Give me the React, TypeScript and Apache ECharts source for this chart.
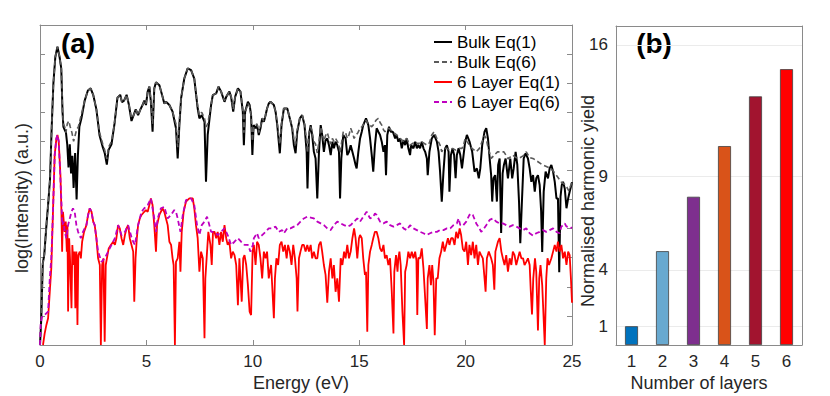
import React, { useEffect, useRef } from 'react';
import * as echarts from 'echarts';

// ---------- Panel (a): log(Intensity) vs Energy (eV) ----------
const energyTicks = [0, 5, 10, 15, 20, 25];

const bulkEq1: [number, number][] = [
  [0,0],[0.06,0.9],[0.13,2.8],[0.2,3.1],[0.31,4.2],[0.39,4.9],[0.47,5.7],[0.55,7.5],[0.63,9.0],[0.72,9.9],[0.82,10.25],[0.92,9.9],[1.0,9.5],[1.06,8.0],[1.1,7.5],[1.16,7.4],[1.22,7.3],[1.28,6.9],[1.34,6.1],[1.4,6.9],[1.46,5.9],[1.52,6.5],[1.58,5.4],[1.65,6.6],[1.72,5.0],[1.78,6.5],[1.85,7.5],[1.95,7.8],[2.1,8.4],[2.25,8.75],[2.38,8.82],[2.5,8.6],[2.65,8.1],[2.8,7.2],[2.95,6.8],[3.04,6.6],[3.14,6.2],[3.22,6.7],[3.36,6.9],[3.5,7.6],[3.64,8.5],[3.77,8.6],[3.85,8.35],[3.95,8.4],[4.07,8.6],[4.18,8.25],[4.3,7.7],[4.4,7.9],[4.5,8.1],[4.61,7.9],[4.72,8.1],[4.82,8.25],[4.9,8.4],[4.98,8.25],[5.06,8.71],[5.14,8.88],[5.21,8.36],[5.29,7.33],[5.37,8.82],[5.45,9.03],[5.61,8.93],[5.76,8.53],[5.84,8.3],[5.92,8.36],[6.08,8.25],[6.23,8.02],[6.39,7.45],[6.47,6.41],[6.55,7.56],[6.63,8.48],[6.78,9.16],[6.94,9.51],[7.1,9.45],[7.25,9.16],[7.41,8.13],[7.49,7.79],[7.6,7.9],[7.73,7.67],[7.8,5.61],[7.88,7.22],[8.04,8.25],[8.12,8.59],[8.28,8.65],[8.39,8.88],[8.51,8.71],[8.67,8.36],[8.75,8.53],[8.9,8.71],[8.98,8.53],[9.08,8.02],[9.17,8.53],[9.3,8.82],[9.42,8.71],[9.53,8.02],[9.58,6.87],[9.64,8.02],[9.77,8.36],[9.85,8.25],[9.92,7.9],[9.98,6.53],[10.04,7.56],[10.13,7.45],[10.2,7.56],[10.28,7.22],[10.36,7.45],[10.44,7.79],[10.52,7.67],[10.6,7.9],[10.67,8.13],[10.75,8.3],[10.83,8.36],[10.99,8.25],[11.07,8.02],[11.15,7.56],[11.27,6.59],[11.35,7.56],[11.46,8.13],[11.62,8.13],[11.74,7.79],[11.85,7.45],[11.93,6.87],[12.01,6.59],[12.09,7.33],[12.21,7.79],[12.32,7.9],[12.43,7.56],[12.53,6.64],[12.57,5.38],[12.64,7.22],[12.72,7.56],[12.79,7.22],[12.87,6.64],[12.95,6.41],[13.03,5.04],[13.11,6.64],[13.19,7.56],[13.26,7.22],[13.34,6.64],[13.42,7.04],[13.5,7.1],[13.58,6.87],[13.66,6.53],[13.74,6.99],[13.81,6.76],[13.89,6.99],[13.97,6.87],[14.05,6.64],[14.1,5.04],[14.16,6.41],[14.25,7.22],[14.36,7.1],[14.44,6.53],[14.52,6.64],[14.6,6.87],[14.68,6.64],[14.76,6.41],[14.83,6.19],[14.88,6.07],[14.96,6.64],[15.04,7.1],[15.12,7.33],[15.19,7.56],[15.32,7.79],[15.43,7.56],[15.51,7.1],[15.59,6.53],[15.66,5.96],[15.74,6.87],[15.82,7.45],[15.9,7.33],[15.98,7.22],[16.06,6.99],[16.14,6.64],[16.21,6.87],[16.26,5.84],[16.32,7.22],[16.4,7.5],[16.48,7.33],[16.58,7.33],[16.69,7.1],[16.76,7.22],[16.84,6.99],[16.92,7.1],[17.0,6.76],[17.08,7.04],[17.16,6.87],[17.23,7.1],[17.31,6.76],[17.39,6.53],[17.44,6.87],[17.55,6.76],[17.63,6.99],[17.71,6.76],[17.78,6.87],[17.86,6.76],[17.94,6.99],[18.02,6.76],[18.1,6.64],[18.18,6.41],[18.22,5.84],[18.3,6.64],[18.41,7.1],[18.52,7.22],[18.65,6.99],[18.73,6.64],[18.8,5.96],[18.88,4.93],[18.96,5.96],[19.04,6.76],[19.12,6.87],[19.2,6.64],[19.24,5.27],[19.31,6.53],[19.39,6.76],[19.46,6.53],[19.53,5.73],[19.59,6.53],[19.67,6.76],[19.75,6.53],[19.83,6.07],[19.9,6.5],[19.98,6.99],[20.06,7.22],[20.18,7.0],[20.31,6.64],[20.42,5.96],[20.53,6.07],[20.62,5.73],[20.69,6.07],[20.78,6.87],[20.89,7.33],[20.97,7.45],[21.05,7.1],[21.13,6.41],[21.2,5.84],[21.25,4.93],[21.31,5.73],[21.39,5.84],[21.47,4.93],[21.53,6.19],[21.6,6.41],[21.67,3.85],[21.74,5.9],[21.8,6.19],[21.88,6.41],[21.99,5.73],[22.1,6.41],[22.19,5.73],[22.26,6.07],[22.35,6.64],[22.43,6.19],[22.51,4.93],[22.57,3.5],[22.64,4.81],[22.73,6.41],[22.82,6.59],[22.93,6.41],[23.01,6.07],[23.09,5.61],[23.17,5.84],[23.25,5.27],[23.32,5.73],[23.4,5.84],[23.48,5.5],[23.55,4.6],[23.6,3.2],[23.67,5.27],[23.76,5.96],[23.87,5.73],[23.95,6.07],[24.03,6.19],[24.11,5.96],[24.19,5.61],[24.27,5.04],[24.34,5.04],[24.4,2.5],[24.46,5.1],[24.52,5.5],[24.58,5.61],[24.66,5.38],[24.74,4.7],[24.82,5.04],[24.89,5.27],[24.97,5.5],[25,5.6]
];

const bulkEq6: [number, number][] = [
  [0,0],[0.06,0.9],[0.13,2.8],[0.2,3.1],[0.31,4.2],[0.39,4.9],[0.47,5.7],[0.55,7.5],[0.63,9.0],[0.72,9.9],[0.82,10.25],[0.92,9.9],[1.0,9.5],[1.06,8.0],[1.1,7.6],[1.16,7.5],[1.22,7.3],[1.28,7.6],[1.35,7.7],[1.42,7.5],[1.5,7.3],[1.58,7.0],[1.65,7.2],[1.72,7.4],[1.8,7.5],[1.9,7.8],[2.1,8.4],[2.25,8.75],[2.38,8.82],[2.5,8.6],[2.65,8.1],[2.8,7.3],[2.95,6.9],[3.04,6.7],[3.14,6.4],[3.22,6.8],[3.36,7.0],[3.5,7.6],[3.64,8.5],[3.77,8.6],[3.85,8.35],[3.95,8.4],[4.07,8.6],[4.18,8.25],[4.3,7.8],[4.4,7.9],[4.5,8.1],[4.61,7.9],[4.72,8.1],[4.82,8.25],[4.9,8.4],[4.98,8.3],[5.06,8.71],[5.14,8.88],[5.21,8.4],[5.29,7.6],[5.37,8.82],[5.45,9.03],[5.61,8.93],[5.76,8.53],[5.84,8.3],[5.92,8.36],[6.08,8.25],[6.23,8.02],[6.39,7.6],[6.47,6.8],[6.55,7.7],[6.63,8.48],[6.78,9.16],[6.94,9.51],[7.1,9.45],[7.25,9.16],[7.41,8.2],[7.49,7.9],[7.6,8.0],[7.73,7.8],[7.8,7.5],[7.88,7.6],[8.04,8.25],[8.12,8.59],[8.28,8.65],[8.39,8.88],[8.51,8.71],[8.67,8.4],[8.75,8.53],[8.9,8.71],[8.98,8.55],[9.08,8.1],[9.17,8.53],[9.3,8.82],[9.42,8.71],[9.53,8.1],[9.58,7.3],[9.64,8.0],[9.77,8.3],[9.85,8.2],[9.92,7.9],[9.98,7.0],[10.04,7.5],[10.2,7.6],[10.28,7.3],[10.36,7.5],[10.44,7.8],[10.52,7.7],[10.6,7.9],[10.67,8.13],[10.75,8.3],[10.83,8.36],[10.99,8.25],[11.07,8.02],[11.15,7.6],[11.27,6.9],[11.35,7.6],[11.46,8.13],[11.62,8.13],[11.74,7.8],[11.85,7.5],[11.93,7.1],[12.01,6.9],[12.09,7.4],[12.21,7.8],[12.32,7.9],[12.43,7.6],[12.53,7.0],[12.57,6.6],[12.64,7.3],[12.72,7.5],[12.79,7.3],[12.87,7.0],[12.95,6.9],[13.03,6.6],[13.11,7.0],[13.19,7.5],[13.26,7.3],[13.34,7.0],[13.42,7.2],[13.5,7.3],[13.58,7.1],[13.66,6.9],[13.74,7.1],[13.81,7.0],[13.89,7.1],[13.97,7.0],[14.05,6.9],[14.1,6.6],[14.16,6.9],[14.25,7.33],[14.36,7.3],[14.44,7.1],[14.52,7.22],[14.6,7.45],[14.68,7.3],[14.76,7.1],[14.83,7.2],[14.94,7.3],[15.04,7.45],[15.12,7.5],[15.19,7.56],[15.32,7.73],[15.43,7.6],[15.51,7.56],[15.59,7.5],[15.66,7.56],[15.74,7.67],[15.82,7.75],[15.9,7.79],[15.98,7.65],[16.06,7.56],[16.14,7.4],[16.21,7.33],[16.3,7.4],[16.4,7.45],[16.58,7.33],[16.76,7.22],[16.92,7.1],[17.08,7.0],[17.23,7.1],[17.39,6.87],[17.55,6.95],[17.63,6.99],[17.78,6.9],[17.86,6.99],[18.02,6.95],[18.18,6.87],[18.3,6.95],[18.41,7.22],[18.52,7.33],[18.65,7.1],[18.8,6.87],[18.88,6.64],[18.96,6.76],[19.12,6.76],[19.24,6.7],[19.39,6.76],[19.53,6.7],[19.67,6.76],[19.83,6.76],[19.9,6.87],[19.98,7.1],[20.06,7.0],[20.18,6.87],[20.3,6.76],[20.5,6.64],[20.65,6.76],[20.78,7.0],[20.89,7.2],[20.97,7.1],[21.05,6.8],[21.2,6.41],[21.35,6.53],[21.5,6.64],[21.65,6.64],[21.8,6.64],[22.0,6.4],[22.2,6.53],[22.35,6.45],[22.5,6.41],[22.7,6.5],[22.85,6.64],[23.0,6.45],[23.2,6.4],[23.4,6.3],[23.6,6.2],[23.9,6.1],[24.1,6.0],[24.3,5.8],[24.5,5.6],[24.7,5.5],[24.85,5.3],[25,5.6]
];

const layerEq1: [number, number][] = [
  [0.14,0],[0.22,0.4],[0.3,0.69],[0.38,0.92],[0.46,1.83],[0.53,2.63],[0.61,4.58],[0.69,6.53],[0.77,7.1],[0.82,7.22],[0.88,6.99],[0.96,5.84],[1.0,4.81],[1.04,3.21],[1.08,4.58],[1.13,4.12],[1.16,3.89],[1.21,4.24],[1.26,3.21],[1.29,4.12],[1.32,1.15],[1.37,3.67],[1.41,2.98],[1.48,1.26],[1.52,3.44],[1.57,2.75],[1.62,3.21],[1.66,1.26],[1.71,3.21],[1.76,0.69],[1.8,3.09],[1.87,3.21],[1.92,2.98],[1.98,3.55],[2.07,3.89],[2.18,4.12],[2.26,4.47],[2.34,4.7],[2.42,4.58],[2.5,4.24],[2.57,4.12],[2.65,3.67],[2.73,2.98],[2.81,2.75],[2.86,0],[2.92,2.75],[2.98,2.98],[3.04,0.11],[3.09,2.75],[3.17,3.09],[3.23,3.32],[3.33,3.44],[3.44,3.55],[3.52,3.44],[3.59,3.67],[3.67,4.12],[3.75,4.01],[3.83,3.67],[3.91,3.44],[3.99,3.78],[4.07,4.01],[4.14,4.12],[4.22,3.67],[4.3,3.44],[4.38,3.21],[4.43,1.49],[4.49,2.98],[4.55,3.67],[4.61,4.12],[4.69,4.35],[4.77,4.47],[4.9,4.58],[4.98,4.64],[5.06,4.58],[5.14,4.81],[5.21,5.04],[5.29,4.81],[5.37,4.12],[5.45,3.21],[5.5,4.12],[5.61,4.47],[5.68,4.58],[5.76,4.7],[5.84,4.58],[5.92,4.35],[6.0,4.12],[6.08,3.55],[6.16,3.44],[6.23,2.98],[6.28,2.75],[6.34,0],[6.39,2.86],[6.47,2.98],[6.55,3.55],[6.6,2.52],[6.66,3.89],[6.75,4.58],[6.86,4.93],[7.02,5.04],[7.18,5.04],[7.25,4.7],[7.33,4.12],[7.41,3.67],[7.49,2.52],[7.57,3.21],[7.65,2.98],[7.73,0.23],[7.77,2.29],[7.85,3.21],[7.91,3.89],[8.01,3.44],[8.07,2.75],[8.13,3.89],[8.2,3.89],[8.28,3.67],[8.35,3.89],[8.43,3.44],[8.51,3.89],[8.59,3.55],[8.67,4.12],[8.75,3.67],[8.82,3.44],[8.9,3.55],[8.98,2.98],[9.06,3.21],[9.14,3.09],[9.22,2.75],[9.3,1.37],[9.37,2.98],[9.42,2.29],[9.48,1.49],[9.55,2.98],[9.61,3.09],[9.69,2.75],[9.77,2.06],[9.85,1.15],[9.92,1.03],[9.99,3.21],[10.05,3.44],[10.13,2.75],[10.2,3.55],[10.28,3.44],[10.36,2.98],[10.44,2.29],[10.52,3.21],[10.6,2.98],[10.67,3.21],[10.75,2.29],[10.8,2.52],[10.86,2.75],[10.91,2.06],[10.99,0.92],[11.04,2.29],[11.11,2.98],[11.19,2.75],[11.27,3.44],[11.35,3.55],[11.43,3.21],[11.51,3.44],[11.59,2.98],[11.66,3.44],[11.74,3.21],[11.82,2.75],[11.9,3.44],[11.98,2.98],[12.06,2.29],[12.1,1.15],[12.17,2.98],[12.24,3.21],[12.32,3.44],[12.4,3.44],[12.48,3.21],[12.56,3.44],[12.64,3.21],[12.72,3.44],[12.79,2.98],[12.87,3.21],[12.95,2.98],[13.03,2.98],[13.11,3.44],[13.19,3.55],[13.26,3.21],[13.34,2.75],[13.42,2.41],[13.5,1.45],[13.58,2.52],[13.66,2.98],[13.74,2.29],[13.81,2.75],[13.89,1.83],[13.97,2.29],[14.05,1.49],[14.13,2.98],[14.21,2.75],[14.29,3.21],[14.36,2.98],[14.44,3.44],[14.52,2.98],[14.6,3.21],[14.68,3.67],[14.76,4.01],[14.83,3.67],[14.91,2.98],[14.99,3.67],[15.04,3.78],[15.12,3.67],[15.19,2.98],[15.27,2.41],[15.32,2.52],[15.38,0.46],[15.43,2.75],[15.51,3.21],[15.59,3.44],[15.66,3.67],[15.74,3.89],[15.82,3.89],[15.9,3.67],[15.98,3.32],[16.06,3.21],[16.14,3.44],[16.21,2.98],[16.29,3.09],[16.37,2.75],[16.45,2.98],[16.53,1.83],[16.61,0.4],[16.65,2.52],[16.73,3.09],[16.8,2.52],[16.84,2.98],[16.89,3.21],[16.95,2.75],[17.03,1.15],[17.11,0],[17.16,2.52],[17.23,2.75],[17.31,3.21],[17.39,2.98],[17.47,3.21],[17.55,2.98],[17.63,3.21],[17.69,2.9],[17.73,1.03],[17.78,3.0],[17.86,2.98],[17.94,3.32],[18.02,2.63],[18.1,1.6],[18.18,0.55],[18.22,2.29],[18.3,2.75],[18.37,2.06],[18.43,2.75],[18.49,2.18],[18.55,0.34],[18.62,2.29],[18.69,2.29],[18.77,2.98],[18.85,3.21],[18.93,3.55],[19.01,3.21],[19.09,3.44],[19.17,3.67],[19.24,3.44],[19.32,3.67],[19.4,3.67],[19.48,3.44],[19.56,3.89],[19.64,3.67],[19.72,4.01],[19.79,3.78],[19.87,3.3],[19.95,3.21],[20.03,3.55],[20.11,2.75],[20.18,3.44],[20.26,3.09],[20.34,3.55],[20.42,2.98],[20.5,3.44],[20.58,2.75],[20.65,3.21],[20.73,3.09],[20.81,2.98],[20.89,2.29],[20.94,1.83],[21.0,2.98],[21.09,3.21],[21.2,2.98],[21.28,2.75],[21.35,1.9],[21.4,3.21],[21.52,3.55],[21.6,3.67],[21.68,3.21],[21.75,2.98],[21.83,2.75],[21.91,3.09],[21.99,2.52],[22.07,2.98],[22.15,2.75],[22.22,3.21],[22.3,3.09],[22.38,2.75],[22.46,2.98],[22.54,3.21],[22.62,2.98],[22.7,2.98],[22.77,2.75],[22.85,2.86],[22.93,2.98],[23.01,2.75],[23.06,1.9],[23.12,1.05],[23.18,2.29],[23.26,2.98],[23.32,2.52],[23.4,0.5],[23.46,2.29],[23.52,2.75],[23.6,2.06],[23.72,0],[23.79,2.29],[23.85,2.98],[23.92,2.75],[24.03,2.98],[24.11,3.21],[24.19,3.44],[24.27,3.21],[24.34,3.55],[24.42,3.21],[24.5,3.44],[24.58,2.98],[24.66,3.21],[24.74,2.75],[24.82,3.21],[24.89,3.09],[24.95,2.29],[25,1.45]
];

const layerEq6: [number, number][] = [
  [0,0],[0.03,0.7],[0.08,0.95],[0.22,1.03],[0.38,1.15],[0.46,2.29],[0.53,2.98],[0.61,4.58],[0.69,6.53],[0.77,7.1],[0.82,7.22],[0.88,7.0],[0.93,6.19],[1.0,5.04],[1.05,4.12],[1.11,4.24],[1.16,3.89],[1.24,3.67],[1.32,4.12],[1.4,4.35],[1.48,4.58],[1.55,4.7],[1.63,4.58],[1.71,4.12],[1.79,3.89],[1.92,3.67],[2.02,3.89],[2.1,4.01],[2.18,4.12],[2.26,4.47],[2.34,4.7],[2.42,4.58],[2.5,4.24],[2.57,4.12],[2.65,3.67],[2.73,3.21],[2.89,2.86],[3.04,2.98],[3.2,3.21],[3.36,3.44],[3.52,3.67],[3.67,4.12],[3.83,3.78],[3.99,3.89],[4.14,4.12],[4.3,3.7],[4.38,3.55],[4.46,3.44],[4.61,4.12],[4.77,4.58],[4.9,4.7],[5.06,4.81],[5.21,5.04],[5.37,4.35],[5.45,3.89],[5.53,4.35],[5.68,4.7],[5.84,4.75],[6.0,4.35],[6.16,4.47],[6.31,4.64],[6.39,4.58],[6.47,4.35],[6.6,3.89],[6.71,4.47],[6.86,4.98],[7.1,5.04],[7.25,4.81],[7.38,4.12],[7.49,3.78],[7.6,4.12],[7.73,4.24],[7.85,4.41],[7.96,4.12],[8.04,3.89],[8.2,3.89],[8.35,3.78],[8.51,3.89],[8.67,4.01],[8.82,3.78],[8.98,3.44],[9.14,3.55],[9.3,3.67],[9.45,3.55],[9.61,3.44],[9.77,3.44],[9.89,3.21],[10.0,3.44],[10.05,3.67],[10.2,3.84],[10.28,3.67],[10.44,3.78],[10.6,3.89],[10.75,4.01],[10.91,4.01],[11.07,4.07],[11.22,3.89],[11.38,3.95],[11.46,3.84],[11.62,4.01],[11.77,4.01],[11.93,4.07],[12.09,4.12],[12.24,4.24],[12.4,4.35],[12.56,4.41],[12.72,4.38],[12.87,4.35],[13.03,4.24],[13.19,4.18],[13.34,4.12],[13.5,4.01],[13.66,3.95],[13.81,4.12],[13.97,4.24],[14.13,4.18],[14.29,4.12],[14.44,4.07],[14.6,4.12],[14.76,4.24],[14.91,4.35],[15.04,4.24],[15.19,4.41],[15.35,4.58],[15.51,4.35],[15.66,4.41],[15.74,4.52],[15.82,4.47],[15.98,4.24],[16.14,4.18],[16.29,4.24],[16.45,4.12],[16.61,4.07],[16.76,4.12],[16.92,4.18],[17.08,4.01],[17.23,3.95],[17.39,4.12],[17.55,4.01],[17.71,3.95],[17.86,3.89],[18.02,3.84],[18.18,3.78],[18.33,3.84],[18.49,3.89],[18.65,3.89],[18.8,3.95],[18.96,3.95],[19.12,4.01],[19.28,4.01],[19.43,4.12],[19.59,4.18],[19.67,4.35],[19.75,4.12],[19.87,4.1],[20.03,4.24],[20.18,4.47],[20.26,4.52],[20.34,4.47],[20.5,4.18],[20.65,4.01],[20.73,3.89],[20.81,3.95],[20.97,4.12],[21.13,4.3],[21.28,4.35],[21.44,4.24],[21.6,4.18],[21.75,4.18],[21.91,4.12],[22.07,4.07],[22.22,4.12],[22.38,4.07],[22.54,4.01],[22.7,3.95],[22.85,4.01],[23.01,3.84],[23.17,3.76],[23.32,3.84],[23.48,3.89],[23.64,3.95],[23.79,3.89],[23.95,3.95],[24.11,4.01],[24.27,3.89],[24.42,3.84],[24.5,4.07],[24.58,4.12],[24.66,4.18],[24.74,4.07],[24.89,4.07],[25,4.01]
];

const seriesNames = ['Bulk Eq(1)', 'Bulk Eq(6)', '6 Layer Eq(1)', '6 Layer Eq(6)'];

// ---------- Panel (b): Normalised harmonic yield vs number of layers ----------
const layerCategories = ['1', '2', '3', '4', '5', '6'];
const layerYield = [1.0, 5.0, 7.9, 10.6, 13.25, 14.7];
const layerColors = ['#0072bd', '#68a9d0', '#7e2f8e', '#d95319', '#a2142f', '#ff0000'];
const yieldTicks = [1, 4, 9, 16];

const FONT = "'Liberation Sans', Arial, Helvetica, sans-serif";
const AXIS_COLOR = '#8a8a8a';
const LABEL_COLOR = '#262626';
const FS = 18;
const TICK_FS = 17;

export default function App() {
  const ref = useRef<HTMLDivElement>(null);

  useEffect(() => {
    if (!ref.current) return;
    const chart = echarts.init(ref.current, null, { renderer: 'svg' });

    const axisLine = { show: true, onZero: false, lineStyle: { color: AXIS_COLOR, width: 1 } };
    const label = { color: LABEL_COLOR, fontSize: TICK_FS, fontFamily: FONT };

    chart.setOption({
      animation: false,
      backgroundColor: '#ffffff',
      textStyle: { fontFamily: FONT },
      grid: [
        { left: 40, top: 25, width: 532, height: 320, containLabel: false },
        { left: 616, top: 26, width: 186, height: 319, containLabel: false },
      ],
      legend: {
        data: seriesNames,
        orient: 'vertical',
        left: 433,
        top: 33,
        padding: 0,
        itemGap: 2,
        itemWidth: 18,
        itemHeight: 12,
        itemStyle: { opacity: 0 },
        textStyle: { color: '#000', fontSize: 17, fontFamily: FONT, lineHeight: 18 },
      },
      xAxis: [
        {
          gridIndex: 0, type: 'value', min: 0, max: 25, interval: 5, position: 'bottom',
          axisLine, axisTick: { inside: true, length: 5, lineStyle: { color: AXIS_COLOR } },
          axisLabel: { ...label, margin: 8, formatter: (v: number) => (energyTicks.includes(v) ? String(v) : '') },
          splitLine: { show: false },
        },
        {
          gridIndex: 0, type: 'value', min: 0, max: 25, interval: 5, position: 'top',
          axisLine, axisTick: { inside: true, length: 5, lineStyle: { color: AXIS_COLOR } },
          axisLabel: { show: false }, splitLine: { show: false },
        },
        {
          gridIndex: 1, type: 'category', data: layerCategories, position: 'bottom',
          axisLine, axisTick: { inside: true, length: 3, alignWithLabel: true, lineStyle: { color: AXIS_COLOR } },
          axisLabel: { ...label, margin: 8 },
        },
        {
          gridIndex: 1, type: 'category', data: layerCategories, position: 'top',
          axisLine, axisTick: { inside: true, length: 3, alignWithLabel: true, lineStyle: { color: AXIS_COLOR } },
          axisLabel: { show: false },
        },
      ],
      yAxis: [
        {
          gridIndex: 0, type: 'value', min: 0, max: 11, interval: 1, position: 'left',
          axisLine, axisTick: { inside: true, length: 5, lineStyle: { color: AXIS_COLOR } },
          axisLabel: { show: false }, splitLine: { show: false },
        },
        {
          gridIndex: 0, type: 'value', min: 0, max: 11, interval: 1, position: 'right',
          axisLine, axisTick: { inside: true, length: 5, lineStyle: { color: AXIS_COLOR } },
          axisLabel: { show: false }, splitLine: { show: false },
        },
        {
          gridIndex: 1, type: 'value', min: 0, max: 17, position: 'left',
          axisLine,
          axisTick: { inside: true, length: 3, customValues: yieldTicks, lineStyle: { color: AXIS_COLOR } },
          axisLabel: { ...label, margin: 8, customValues: yieldTicks },
          splitLine: { show: true, lineStyle: { color: '#ebebeb', width: 1 } },
        },
        {
          gridIndex: 1, type: 'value', min: 0, max: 17, position: 'right',
          axisLine,
          axisTick: { inside: true, length: 3, customValues: yieldTicks, lineStyle: { color: AXIS_COLOR } },
          axisLabel: { show: false }, splitLine: { show: false },
        },
      ],
      series: [
        {
          name: seriesNames[0], type: 'line', xAxisIndex: 0, yAxisIndex: 0, data: bulkEq1,
          symbol: 'none', showSymbol: false, lineStyle: { color: '#000000', width: 2 }, itemStyle: { color: '#000000' }, z: 2,
        },
        {
          name: seriesNames[1], type: 'line', xAxisIndex: 0, yAxisIndex: 0, data: bulkEq6,
          symbol: 'none', showSymbol: false, lineStyle: { color: '#5a5a5a', width: 1.6, type: [5, 3] }, itemStyle: { color: '#5a5a5a' }, z: 3,
        },
        {
          name: seriesNames[2], type: 'line', xAxisIndex: 0, yAxisIndex: 0, data: layerEq1,
          symbol: 'none', showSymbol: false, lineStyle: { color: '#ff0000', width: 1.8 }, itemStyle: { color: '#ff0000' }, z: 4,
        },
        {
          name: seriesNames[3], type: 'line', xAxisIndex: 0, yAxisIndex: 0, data: layerEq6,
          symbol: 'none', showSymbol: false, lineStyle: { color: '#bf00bf', width: 1.8, type: [5, 3] }, itemStyle: { color: '#bf00bf' }, z: 5,
        },
        {
          name: 'yield', type: 'bar', xAxisIndex: 2, yAxisIndex: 2, barWidth: 13,
          data: layerYield.map((v, i) => ({
            value: v,
            itemStyle: { color: layerColors[i], borderColor: '#404040', borderWidth: 0.8 },
          })),
        },
      ],
      graphic: [
        { type: 'text', x: 78, y: 43, style: { text: '(a)', fontSize: 28, fontWeight: 'bold', fontFamily: FONT, fill: '#000', align: 'center', verticalAlign: 'middle' } },
        { type: 'text', x: 654, y: 43, style: { text: '(b)', fontSize: 28, fontWeight: 'bold', fontFamily: FONT, fill: '#000', align: 'center', verticalAlign: 'middle' } },
        { type: 'text', x: 22, y: 198, rotation: Math.PI / 2, style: { text: 'log(Intensity) (a.u.)', fontSize: FS, fontFamily: FONT, fill: LABEL_COLOR, align: 'center', verticalAlign: 'middle' } },
        { type: 'text', x: 301, y: 383, style: { text: 'Energy (eV)', fontSize: FS, fontFamily: FONT, fill: LABEL_COLOR, align: 'center', verticalAlign: 'middle' } },
        { type: 'text', x: 588, y: 201, rotation: Math.PI / 2, style: { text: 'Normalised harmonic yield', fontSize: FS, fontFamily: FONT, fill: LABEL_COLOR, align: 'center', verticalAlign: 'middle' } },
        { type: 'text', x: 699, y: 383, style: { text: 'Number of layers', fontSize: FS, fontFamily: FONT, fill: LABEL_COLOR, align: 'center', verticalAlign: 'middle' } },
      ],
    });

    return () => chart.dispose();
  }, []);

  return (
    <div
      ref={ref}
      style={{ position: 'absolute', left: 0, top: 0, width: 830, height: 396, background: '#fff' }}
    />
  );
}
